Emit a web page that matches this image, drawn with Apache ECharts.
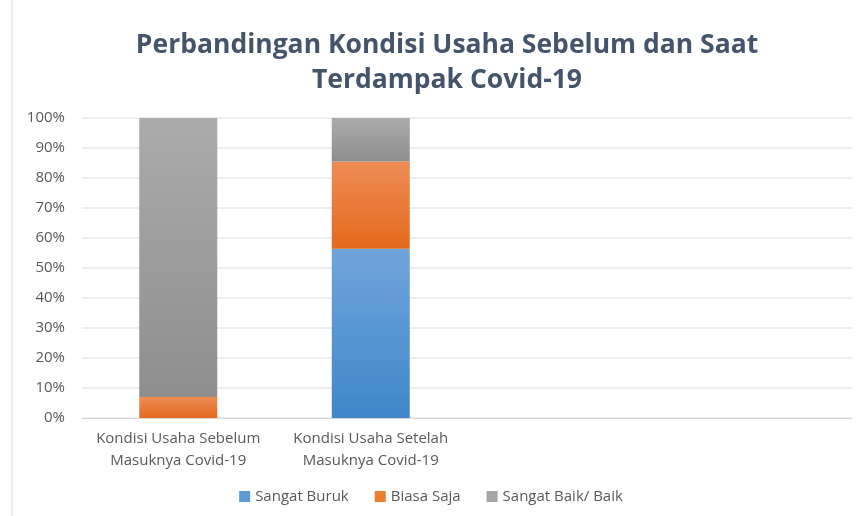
<!DOCTYPE html>
<html>
<head>
<meta charset="utf-8">
<script src="https://cdn.jsdelivr.net/npm/echarts@6/dist/echarts.min.js"></script>
<style>
  html, body { margin: 0; padding: 0; background: #fff; }
  #chart { width: 862px; height: 516px; }
</style>
</head>
<body>
<div id="chart"></div>
<script>
// categories (last two slots are empty in the original)
const categories = [
  'Kondisi Usaha Sebelum\nMasuknya Covid-19',
  'Kondisi Usaha Setelah\nMasuknya Covid-19',
  '',
  ''
];
const sangatBuruk = [0, 56.4, null, null];
const biasaSaja = [7.0, 29.1, null, null];
const sangatBaik = [93.0, 14.5, null, null];

const chart = echarts.init(document.getElementById('chart'));

function grad(top, bottom) {
  return new echarts.graphic.LinearGradient(0, 0, 0, 1, [
    { offset: 0, color: top },
    { offset: 1, color: bottom }
  ]);
}

const font = 'Open Sans, Noto Sans, sans-serif';

const option = {
  backgroundColor: '#fff',
  animation: false,
  title: {
    text: 'Perbandingan Kondisi Usaha Sebelum dan Saat\nTerdampak Covid-19',
    left: 442,
    top: 23,
    textAlign: 'center',
    textStyle: {
      fontFamily: font,
      fontSize: 26.5,
      fontWeight: 'bold',
      color: '#44546a',
      lineHeight: 35
    }
  },
  legend: {
    top: 484,
    left: 'center',
    itemWidth: 11,
    itemHeight: 11,
    itemGap: 26,
    icon: 'rect',
    textStyle: { fontFamily: font, fontSize: 15, color: '#595959' },
    data: [
      { name: 'Sangat Buruk', itemStyle: { color: '#5b9bd5' } },
      { name: 'Biasa Saja', itemStyle: { color: '#ed7d31' } },
      { name: 'Sangat Baik/ Baik', itemStyle: { color: '#a5a5a5' } }
    ]
  },
  grid: { left: 82, right: 10, top: 118, bottom: 98 },
  xAxis: {
    type: 'category',
    data: categories,
    axisLine: { lineStyle: { color: '#d9d9d9' } },
    axisTick: { show: false },
    axisLabel: {
      interval: 0,
      fontFamily: font,
      fontSize: 15,
      color: '#595959',
      lineHeight: 22,
      margin: 10
    }
  },
  yAxis: {
    type: 'value',
    min: 0,
    max: 100,
    interval: 10,
    axisLine: { show: false },
    axisTick: { show: false },
    axisLabel: {
      fontFamily: font,
      fontSize: 15,
      color: '#595959',
      margin: 17,
      formatter: '{value}%'
    },
    splitLine: { lineStyle: { color: '#e4e8ee', width: 1.5 } }
  },
  series: [
    {
      name: 'Sangat Buruk',
      type: 'bar',
      stack: 'total',
      barWidth: 78,
      data: sangatBuruk,
      itemStyle: { color: grad('#70a5db', '#3f87c9') }
    },
    {
      name: 'Biasa Saja',
      type: 'bar',
      stack: 'total',
      barWidth: 78,
      data: biasaSaja,
      itemStyle: { color: grad('#ee8c55', '#e4691c') }
    },
    {
      name: 'Sangat Baik/ Baik',
      type: 'bar',
      stack: 'total',
      barWidth: 78,
      data: sangatBaik,
      itemStyle: { color: grad('#ababab', '#8e8e8e') }
    }
  ],
  graphic: [
    {
      type: 'line',
      shape: { x1: 12, y1: 0, x2: 12, y2: 516 },
      style: { stroke: '#e6e8ec', lineWidth: 1.5 }
    }
  ]
};

chart.setOption(option);
</script>
</body>
</html>
